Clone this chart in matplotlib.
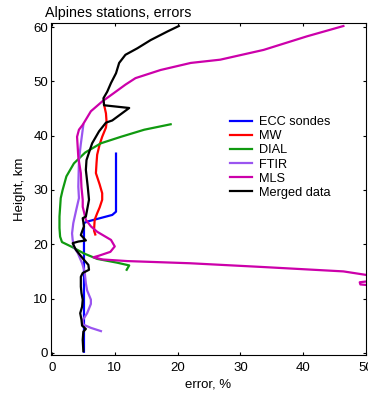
import matplotlib
matplotlib.use("Agg")
import matplotlib.pyplot as plt

plt.rcParams["font.family"] = ["Liberation Sans", "DejaVu Sans"]

# error (%) vs height (km)
ecc_err = [5.1, 5.1, 5.7, 9.6, 10.2, 10.2]
ecc_h = [0.2, 23.9, 24.2, 25.4, 26.0, 36.7]

mw_err = [6.9, 6.7, 6.8, 7.2, 7.6, 8.0, 8.0, 7.6, 7.0, 7.1, 7.2, 7.6, 8.0, 8.6, 8.7, 8.6, 8.3]
mw_h = [21.8, 22.5, 24.5, 25.7, 26.8, 28.2, 29.4, 31.0, 33.1, 35.0, 36.5, 38.4, 39.8, 41.5, 42.5, 44.1, 45.7]

dial_err = [11.9, 12.3, 10.4, 7.2, 5.1, 3.2, 1.6, 1.3, 1.2, 1.2, 1.4, 1.7, 2.3, 3.5, 5.3, 7.8, 11.0, 14.7, 18.9]
dial_h = [15.3, 16.1, 16.6, 17.3, 18.3, 19.5, 20.4, 21.4, 23.0, 25.1, 28.5, 30.0, 32.5, 34.9, 36.9, 38.6, 39.8, 41.1, 42.1]

ftir_err = [7.8, 6.2, 5.0, 4.9, 5.6, 6.2, 6.2, 5.6, 5.4, 5.2, 4.8, 4.1, 3.5, 3.3, 3.2, 3.4, 3.9, 4.3, 4.2, 4.3, 4.6, 5.0]
ftir_h = [4.0, 4.6, 5.2, 6.0, 7.3, 9.0, 9.8, 11.5, 12.8, 15.0, 16.5, 18.4, 19.5, 20.8, 22.0, 23.9, 26.5, 28.5, 30.6, 35.5, 38.5, 42.0]

mls_err = [52.0, 49.1, 49.0, 52.0, 52.0, 46.4, 33.7, 22.0, 12.0, 8.0, 6.6, 7.5, 9.3, 10.0, 9.4, 7.2, 6.2,
           5.4, 4.9, 4.9, 4.7, 4.6, 4.2, 4.0, 4.3, 4.9, 6.2, 8.0, 9.8, 11.7, 13.3, 17.3, 22.1, 26.8,
           33.7, 40.6, 46.4]
mls_h = [12.3, 12.6, 13.0, 13.4, 14.0, 15.0, 15.8, 16.5, 16.9, 17.2, 17.6, 17.9, 18.6, 19.6, 20.8, 22.3, 23.3,
         24.5, 26.9, 28.2, 30.5, 33.1, 36.0, 39.8, 41.1, 42.0, 44.5, 46.3, 47.8, 49.4, 50.6, 52.1, 53.4, 54.0,
         55.8, 58.3, 60.2]

merged_err = [5.0, 4.9, 5.0, 5.4, 4.8, 4.7, 4.5, 4.8, 4.9, 4.7, 4.6, 4.6, 4.9, 5.9, 5.8, 4.9, 3.8, 3.3, 4.2,
              5.4, 4.6, 5.1, 4.9, 5.4, 5.9, 5.7, 5.4, 5.5, 5.7, 6.4, 7.5, 8.6, 9.6, 12.3, 8.3, 8.2, 8.8,
              9.4, 10.2, 10.7, 11.7, 13.6, 15.7, 18.4, 20.2]
merged_h = [0.3, 2.4, 3.9, 4.4, 5.0, 6.1, 7.3, 8.5, 9.8, 11.0, 12.2, 14.0, 14.7, 15.3, 16.2, 17.4, 19.0, 20.2, 20.5,
            20.7, 21.7, 23.3, 24.8, 25.1, 28.2, 30.6, 33.7, 35.5, 36.2, 38.6, 40.8, 42.4, 42.8, 45.1, 45.6, 46.9, 48.1,
            49.7, 51.5, 53.4, 54.9, 56.1, 57.6, 59.2, 60.2]

series = [
    ("ECC sondes", ecc_err, ecc_h, "#0000ff"),
    ("MW", mw_err, mw_h, "#ff0000"),
    ("DIAL", dial_err, dial_h, "#109a10"),
    ("FTIR", ftir_err, ftir_h, "#9a55f0"),
    ("MLS", mls_err, mls_h, "#cc00aa"),
    ("Merged data", merged_err, merged_h, "#000000"),
]

fig = plt.figure(figsize=(3.68, 3.94), dpi=100)
ax = fig.add_axes([51 / 368, 1 - 355 / 394, 315 / 368, 331.7 / 394])

for label, err, h, color in series:
    ax.plot(err, h, color=color, linewidth=1.6, label=label)

ax.set_xlim(-0.15, 50)
ax.set_ylim(-0.4, 60.7)
ax.set_xticks(range(0, 51, 10))
ax.set_yticks(range(0, 61, 10))
ax.tick_params(direction="in", top=True, right=True, length=2.5, width=0.8, labelsize=9.5)
ax.tick_params(axis="x", pad=5)
ax.tick_params(axis="y", pad=2)
for spine in ax.spines.values():
    spine.set_linewidth(0.8)

ax.set_xlabel("error, %", fontsize=9.5, labelpad=3)
ax.set_ylabel("Height, km", fontsize=9.5, labelpad=5)
fig.text(45 / 368, 1 - 17 / 394, "Alpines stations, errors", fontsize=10.3, va="baseline", ha="left")

ax.legend(loc="upper left", bbox_to_anchor=(230 / 368, 1 - 116 / 394), bbox_transform=fig.transFigure,
          frameon=False, fontsize=9.2, handlelength=1.75, handletextpad=0.55, labelspacing=0.17,
          borderpad=0, borderaxespad=0)

fig.savefig("out.png", dpi=100)
